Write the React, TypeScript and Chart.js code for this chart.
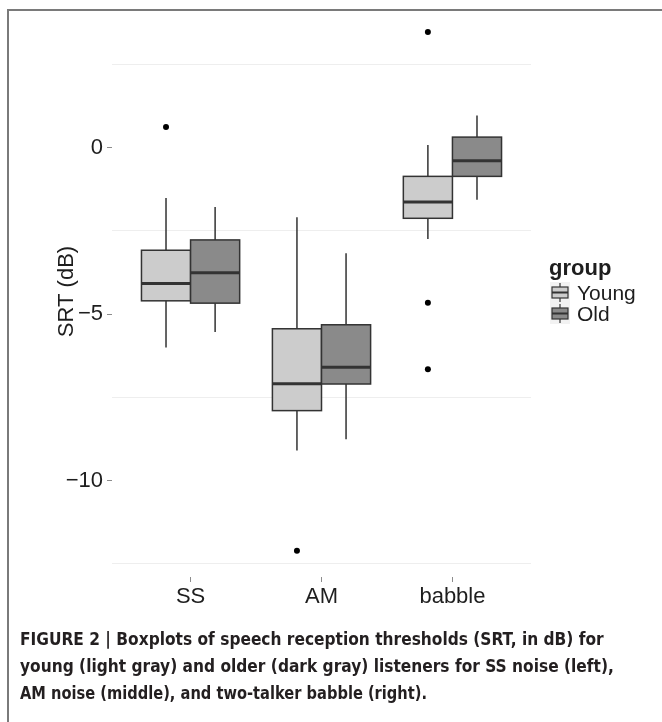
import React, { useEffect, useLayoutEffect, useRef } from 'react';
import { Chart, registerables } from 'chart.js';

Chart.register(...registerables);

// ---- data ----
const categories = ['SS', 'AM', 'babble'];
const groups = ['Young', 'Old'];
const youngLow = [-6.0, -9.1, -2.74];
const youngQ1 = [-4.6, -7.9, -2.12];
const youngMedian = [-4.08, -7.09, -1.63];
const youngQ3 = [-3.08, -5.44, -0.86];
const youngHigh = [-1.51, -2.09, 0.08];
const oldLow = [-5.54, -8.76, -1.56];
const oldQ1 = [-4.67, -7.1, -0.86];
const oldMedian = [-3.76, -6.6, -0.39];
const oldQ3 = [-2.77, -5.32, 0.32];
const oldHigh = [-1.78, -3.17, 0.97];
const youngOutliers = [[0.62], [-12.11], [3.48, -4.66, -6.66]];
const oldOutliers: number[][] = [[], [], []];
const yTicks = [0, -5, -10];
const yMinorGrid = [2.5, -2.5, -7.5, -12.5];

const captionLines = [
  'FIGURE 2 | Boxplots of speech reception thresholds (SRT, in dB) for',
  'young (light gray) and older (dark gray) listeners for SS noise (left),',
  'AM noise (middle), and two-talker babble (right).',
];

// ---- styles ----
const groupFills = ['#cccccc', '#8a8a8a'];
const lineColor = '#333333';
const textColor = '#1e1e1e';
const dodgeWidth = 0.75;
const sansFamily = "'Liberation Sans', Arial, Helvetica, sans-serif";

const stats = [
  { low: youngLow, q1: youngQ1, med: youngMedian, q3: youngQ3, high: youngHigh, out: youngOutliers },
  { low: oldLow, q1: oldQ1, med: oldMedian, q3: oldQ3, high: oldHigh, out: oldOutliers },
];

const boxOffset = (g: number) => (g - (groups.length - 1) / 2) * (dodgeWidth / groups.length);

const boxPlugin = {
  id: 'boxes',
  beforeDatasetsDraw(chart: any) {
    const { ctx } = chart;
    const xs = chart.scales.x;
    const ys = chart.scales.y;
    const half = dodgeWidth / groups.length / 2;
    ctx.save();
    stats.forEach((s, g) => {
      categories.forEach((_, i) => {
        const c = i + 1 + boxOffset(g);
        const left = xs.getPixelForValue(c - half);
        const right = xs.getPixelForValue(c + half);
        const cx = xs.getPixelForValue(c);
        const yLow = ys.getPixelForValue(s.low[i]);
        const yQ1 = ys.getPixelForValue(s.q1[i]);
        const yMed = ys.getPixelForValue(s.med[i]);
        const yQ3 = ys.getPixelForValue(s.q3[i]);
        const yHigh = ys.getPixelForValue(s.high[i]);
        ctx.strokeStyle = lineColor;
        ctx.lineWidth = 1.5;
        ctx.beginPath();
        ctx.moveTo(cx, yHigh);
        ctx.lineTo(cx, yQ3);
        ctx.moveTo(cx, yQ1);
        ctx.lineTo(cx, yLow);
        ctx.stroke();
        ctx.fillStyle = groupFills[g];
        ctx.fillRect(left, yQ3, right - left, yQ1 - yQ3);
        ctx.strokeRect(left, yQ3, right - left, yQ1 - yQ3);
        ctx.lineWidth = 3;
        ctx.beginPath();
        ctx.moveTo(left, yMed);
        ctx.lineTo(right, yMed);
        ctx.stroke();
      });
    });
    ctx.restore();
  },
};

const fmt = (v: number) => (v === 0 ? '0' : v < 0 ? '\u2212' + Math.abs(v) : String(v));

function ChartView() {
  const ref = useRef<HTMLCanvasElement>(null);
  useEffect(() => {
    const outlierData: { x: number; y: number }[] = [];
    stats.forEach((s, g) => {
      s.out.forEach((vals, i) => {
        vals.forEach((v) => outlierData.push({ x: i + 1 + boxOffset(g), y: v }));
      });
    });
    const tickFont = { family: sansFamily, size: 22 };
    const chart = new Chart(ref.current!, {
      type: 'scatter',
      data: {
        datasets: [
          {
            label: 'outliers',
            data: outlierData,
            pointRadius: 3,
            pointHoverRadius: 3,
            backgroundColor: '#000',
            borderWidth: 0,
          },
        ],
      },
      options: {
        animation: false,
        responsive: false,
        devicePixelRatio: 1,
        layout: { padding: { left: 0, right: 131, top: 6, bottom: 0 } },
        plugins: { legend: { display: false }, tooltip: { enabled: false } },
        scales: {
          x: {
            type: 'linear',
            min: 0.4,
            max: 3.6,
            afterBuildTicks: (s: any) => {
              s.ticks = categories.map((_, i) => ({ value: i + 1 }));
            },
            afterFit: (s: any) => {
              s.height = 43;
              s.paddingLeft = 0;
              s.paddingRight = 0;
            },
            ticks: {
              autoSkip: false,
              maxRotation: 0,
              padding: 2,
              color: textColor,
              font: tickFont,
              callback: (v: any) => categories[Math.round(Number(v)) - 1] ?? '',
            },
            grid: { drawOnChartArea: false, drawTicks: true, tickLength: 5, tickColor: '#8c8c8c', tickWidth: 1 },
            border: { display: false },
          },
          y: {
            type: 'linear',
            min: -12.9,
            max: 4.26,
            afterBuildTicks: (s: any) => {
              s.ticks = [...yMinorGrid, ...yTicks].sort((a, b) => b - a).map((v) => ({ value: v }));
            },
            afterFit: (s: any) => {
              s.width = 112;
              s.paddingTop = 0;
              s.paddingBottom = 0;
            },
            ticks: {
              autoSkip: false,
              padding: 4,
              color: textColor,
              font: tickFont,
              callback: (v: any) => (yTicks.includes(Number(v)) ? fmt(Number(v)) : ''),
            },
            grid: {
              drawTicks: true,
              tickLength: 5,
              tickWidth: 1,
              lineWidth: 1,
              color: (c: any) => (c.tick && yMinorGrid.includes(c.tick.value) ? '#eeeeee' : 'rgba(0,0,0,0)'),
              tickColor: (c: any) => (c.tick && yTicks.includes(c.tick.value) ? '#8c8c8c' : 'rgba(0,0,0,0)'),
            },
            border: { display: false },
            title: {
              display: true,
              text: 'SRT (dB)',
              color: textColor,
              font: { family: sansFamily, size: 22 },
              padding: { top: 54, bottom: 0 },
            },
          },
        },
      },
      plugins: [boxPlugin],
    } as any);
    return () => chart.destroy();
  }, []);
  return (
    <canvas
      ref={ref}
      width={662}
      height={620}
      style={{ position: 'absolute', left: 0, top: 0, width: 662, height: 620 }}
    />
  );
}

function LegendKey({ fill }: { fill: string }) {
  return (
    <svg width={20} height={21} style={{ display: 'block' }}>
      <rect x={0} y={0} width={20} height={21} fill="#f2f2f2" />
      <line x1={10} y1={1} x2={10} y2={20} stroke={lineColor} strokeWidth={1.2} />
      <rect x={2} y={5} width={16} height={11} fill={fill} stroke={lineColor} strokeWidth={1.2} />
      <line x1={2} y1={10.5} x2={18} y2={10.5} stroke={lineColor} strokeWidth={2} />
    </svg>
  );
}

const captionTargets = [584, 594, 407];

function Caption() {
  const refs = useRef<(HTMLSpanElement | null)[]>([]);
  useLayoutEffect(() => {
    refs.current.forEach((el, i) => {
      if (!el) return;
      const w = el.offsetWidth;
      if (w > 0) el.style.transform = `scaleX(${captionTargets[i] / w})`;
    });
  }, []);
  return (
    <>
      {captionLines.map((t, i) => (
        <span
          key={i}
          ref={(el) => {
            refs.current[i] = el;
          }}
          style={{
            position: 'absolute',
            left: 20,
            top: 628 + i * 27,
            whiteSpace: 'nowrap',
            transformOrigin: 'left center',
            fontFamily: "'Liberation Sans Narrow', 'DejaVu Sans Condensed', 'Liberation Sans', Arial, sans-serif",
            fontWeight: 'bold',
            fontSize: 18,
            lineHeight: '22px',
            color: '#231f20',
          }}
        >
          {t}
        </span>
      ))}
    </>
  );
}

export default function App() {
  return (
    <div
      style={{
        position: 'fixed',
        left: 0,
        top: 0,
        width: 662,
        height: 722,
        overflow: 'hidden',
        background: '#fff',
      }}
    >
      <ChartView />
      <div
        style={{
          position: 'absolute',
          left: 7,
          top: 9,
          width: 700,
          height: 800,
          borderLeft: '2px solid #7a7a7a',
          borderTop: '2px solid #7a7a7a',
          pointerEvents: 'none',
        }}
      />
      <div
        style={{
          position: 'absolute',
          left: 549,
          top: 255,
          fontFamily: sansFamily,
          fontWeight: 'bold',
          fontSize: 22,
          lineHeight: '26px',
          color: textColor,
        }}
      >
        group
      </div>
      {groups.map((g, i) => (
        <div
          key={g}
          style={{ position: 'absolute', left: 550, top: 282 + i * 21, display: 'flex', alignItems: 'center', height: 21 }}
        >
          <LegendKey fill={groupFills[i]} />
          <span
            style={{
              marginLeft: 7,
              fontFamily: sansFamily,
              fontSize: 21,
              lineHeight: '21px',
              color: textColor,
            }}
          >
            {g}
          </span>
        </div>
      ))}
      <Caption />
    </div>
  );
}
